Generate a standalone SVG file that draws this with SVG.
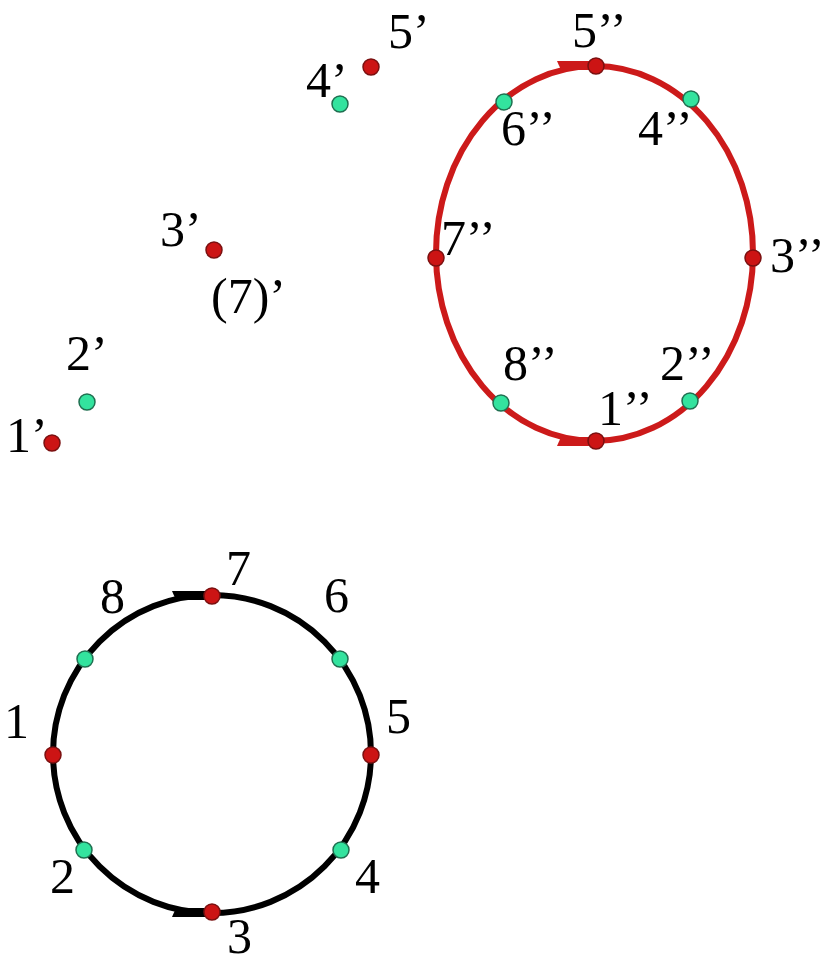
<svg xmlns="http://www.w3.org/2000/svg" width="824" height="966" viewBox="0 0 824 966">
<style>
text{font-family:"Liberation Serif","Times New Roman",serif;font-size:50px;fill:#000}
.r{fill:#cc1414;stroke:#7a1010;stroke-width:1.5}
.g{fill:#33e39e;stroke:#1f6f50;stroke-width:1.5}
</style>
<rect width="824" height="966" fill="#fff"/>
<g id="connectors">
<circle cx="212" cy="754" r="159" fill="none" stroke="#000" stroke-width="6"/>
<path d="M172,591 L212,591 L212,600 L176,600 Z" fill="#000"/>
<path d="M172,917 L212,917 L212,908 L176,908 Z" fill="#000"/>
<ellipse cx="594.5" cy="253.5" rx="158.5" ry="187.5" fill="none" stroke="#cc1a1a" stroke-width="6"/>
<path d="M557,61 L597,61 L597,70 L561,70 Z" fill="#cc1a1a"/>
<path d="M557,446 L596,446 L596,437 L561,437 Z" fill="#cc1a1a"/>
</g>
<g id="n1"><circle class="r" cx="53" cy="755" r="8"/><text x="4" y="738">1</text></g>
<g id="n2"><circle class="g" cx="84" cy="850" r="8"/><text x="50" y="893">2</text></g>
<g id="n3"><circle class="r" cx="212" cy="912" r="8"/><text x="227" y="953">3</text></g>
<g id="n4"><circle class="g" cx="341" cy="850" r="8"/><text x="355" y="893">4</text></g>
<g id="n5"><circle class="r" cx="371" cy="755" r="8"/><text x="386" y="733">5</text></g>
<g id="n6"><circle class="g" cx="340" cy="659" r="8"/><text x="324" y="612">6</text></g>
<g id="n7"><circle class="r" cx="212" cy="596" r="8"/><text x="226" y="585">7</text></g>
<g id="n8"><circle class="g" cx="85" cy="659" r="8"/><text x="100" y="613">8</text></g>
<g id="e1"><circle class="r" cx="596" cy="441" r="8"/><text x="598" y="425">1’’</text></g>
<g id="e2"><circle class="g" cx="690" cy="401" r="8"/><text x="660" y="380">2’’</text></g>
<g id="e3"><circle class="r" cx="753" cy="258" r="8"/><text x="770" y="272">3’’</text></g>
<g id="e4"><circle class="g" cx="691" cy="99" r="8"/><text x="638" y="145">4’’</text></g>
<g id="e5"><circle class="r" cx="596" cy="66" r="8"/><text x="572" y="47">5’’</text></g>
<g id="e6"><circle class="g" cx="504" cy="102" r="8"/><text x="501" y="145">6’’</text></g>
<g id="e7"><circle class="r" cx="436" cy="258" r="8"/><text x="441" y="255">7’’</text></g>
<g id="e8"><circle class="g" cx="501" cy="403" r="8"/><text x="503" y="380">8’’</text></g>
<g id="p1"><circle class="r" cx="52" cy="443" r="8"/><text x="6" y="452">1’</text></g>
<g id="p2"><circle class="g" cx="87" cy="402" r="8"/><text x="66" y="370">2’</text></g>
<g id="p3"><circle class="r" cx="214" cy="250" r="8"/><text x="160" y="246">3’</text><text x="211" y="313">(7)’</text></g>
<g id="p4"><circle class="g" cx="340" cy="104" r="8"/><text x="306" y="97">4’</text></g>
<g id="p5"><circle class="r" cx="371" cy="67" r="8"/><text x="388" y="48">5’</text></g>
</svg>
